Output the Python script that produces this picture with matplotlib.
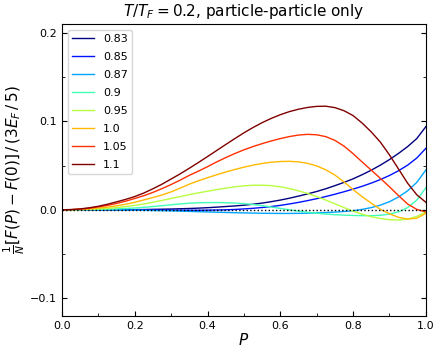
import numpy as np
import matplotlib
matplotlib.use("Agg")
import matplotlib.pyplot as plt

# momentum grid (step 0.025)
P = [i / 40 for i in range(41)]

labels = ["0.83", "0.85", "0.87", "0.9", "0.95", "1.0", "1.05", "1.1"]

f_083 = [0, 0, 0, 0, 0, 0, 0, 0.0001, 0.0002, 0.0003,
         0.0005, 0.0007, 0.0009, 0.0012, 0.0015, 0.0019, 0.0024, 0.003, 0.0037, 0.0044,
         0.0052, 0.0063, 0.0076, 0.0092, 0.0110, 0.0131, 0.0155, 0.0180, 0.0207, 0.0238,
         0.0273, 0.031, 0.035, 0.0397, 0.0448, 0.0505, 0.0568, 0.0638, 0.0715, 0.0805,
         0.094]
f_085 = [0, 0, 0, 0, 0, 0, 0, 0, 0, -0.0001,
         -0.0002, -0.0003, -0.0004, -0.0005, -0.0005, -0.0005, -0.0004, -0.0002, 0, 0.0004,
         0.001, 0.0017, 0.0026, 0.0037, 0.005, 0.0066, 0.0084, 0.0104, 0.0126, 0.015,
         0.0176, 0.0204, 0.0234, 0.0266, 0.0302, 0.0342, 0.0388, 0.0442, 0.0505, 0.0585,
         0.0695]
f_087 = [0, 0, 0, 0, 0, -0.0001, -0.0002, -0.0003, -0.0004, -0.0006,
         -0.0008, -0.001, -0.0012, -0.0015, -0.0018, -0.0021, -0.0024, -0.0027, -0.003, -0.0033,
         -0.0035, -0.0037, -0.0039, -0.004, -0.0041, -0.0041, -0.004, -0.0038, -0.0035, -0.0031,
         -0.0026, -0.0019, -0.001, 0.0005, 0.0025, 0.0053, 0.0092, 0.0145, 0.0215, 0.031,
         0.045]
f_090 = [0, 0, 0.0001, 0.0002, 0.0004, 0.0007, 0.001, 0.0015, 0.002, 0.0028,
         0.0037, 0.0047, 0.0057, 0.0067, 0.0075, 0.008, 0.0082, 0.0082, 0.008, 0.0076,
         0.007, 0.006, 0.0047, 0.0032, 0.0016, 0, -0.0015, -0.0028, -0.0039, -0.0048,
         -0.0055, -0.006, -0.0064, -0.0066, -0.0066, -0.0062, -0.0048, -0.0022, 0.0025, 0.011,
         0.025]
f_095 = [0, 0, 0.0002, 0.0005, 0.001, 0.0016, 0.0025, 0.0036, 0.005, 0.0066,
         0.0085, 0.0106, 0.0128, 0.015, 0.0172, 0.0192, 0.021, 0.0228, 0.0245, 0.026,
         0.0271, 0.0277, 0.0278, 0.0273, 0.026, 0.024, 0.0215, 0.0185, 0.015, 0.011,
         0.0068, 0.0025, -0.0015, -0.005, -0.0078, -0.0098, -0.0112, -0.0115, -0.0105, -0.0075,
         -0.0025]
f_100 = [0, 0.0001, 0.0005, 0.001, 0.002, 0.003, 0.0045, 0.0063, 0.0085, 0.0112,
         0.0139, 0.0168, 0.0203, 0.0245, 0.029, 0.0328, 0.0363, 0.0396, 0.0427, 0.0456,
         0.0482, 0.0505, 0.0524, 0.0538, 0.0546, 0.0548, 0.0542, 0.0525, 0.0496, 0.0452,
         0.0393, 0.0315, 0.0228, 0.0148, 0.0075, 0.0005, -0.0045, -0.0085, -0.0105, -0.0095,
         -0.004]
f_105 = [0, 0.0002, 0.0008, 0.0018, 0.0033, 0.005, 0.0072, 0.0098, 0.0128, 0.016,
         0.0197, 0.024, 0.0286, 0.0336, 0.039, 0.0437, 0.0488, 0.0541, 0.059, 0.0636,
         0.0678, 0.0715, 0.0748, 0.0778, 0.0805, 0.0828, 0.0845, 0.0853, 0.0848, 0.0827,
         0.0785, 0.072, 0.0635, 0.054, 0.0448, 0.0355, 0.026, 0.016, 0.0065, 0.0005,
         -0.0025]
f_110 = [0, 0.0003, 0.001, 0.0023, 0.004, 0.0063, 0.009, 0.0118, 0.015, 0.019,
         0.0238, 0.029, 0.0348, 0.0407, 0.047, 0.0535, 0.0602, 0.067, 0.0738, 0.0805,
         0.087, 0.093, 0.0985, 0.1033, 0.1075, 0.111, 0.1137, 0.1157, 0.1169, 0.1171,
         0.1155, 0.112, 0.1065, 0.098, 0.088, 0.0765, 0.062, 0.046, 0.030, 0.017,
         0.0085]

curves = [f_083, f_085, f_087, f_090, f_095, f_100, f_105, f_110]
colors = plt.cm.jet(np.linspace(0, 1, len(curves)))

fig = plt.figure(figsize=(4.35, 3.48), dpi=100)
ax = fig.add_axes([0.1425, 0.092, 0.8365, 0.839])

for y, c, lab in zip(curves, colors, labels):
    ax.plot(P, y, color=c, lw=1, label=lab)
ax.axhline(0, color='k', ls=':', lw=1)

ax.set_xlim(0, 1)
ax.set_ylim(-0.12, 0.21)
ax.set_xticks([0, 0.2, 0.4, 0.6, 0.8, 1.0])
ax.set_yticks([-0.1, 0, 0.1, 0.2])
ax.set_xticks(np.arange(0.1, 1, 0.2), minor=True)
ax.set_yticks([-0.05, 0.05, 0.15], minor=True)
ax.tick_params(which='both', direction='in', right=True, labelsize=8)

ax.set_xlabel(r'$P$', fontsize=11, labelpad=1)
ax.set_ylabel(r'$\frac{1}{N}[F(P)-F(0)]\,/\,(3E_F\,/\,5)$', fontsize=11, labelpad=2)
ax.set_title(r'$T/T_F=0.2$, particle-particle only', fontsize=11)
ax.legend(loc='upper left', fontsize=8, labelspacing=0.72)

fig.savefig('out.png', dpi=100)
